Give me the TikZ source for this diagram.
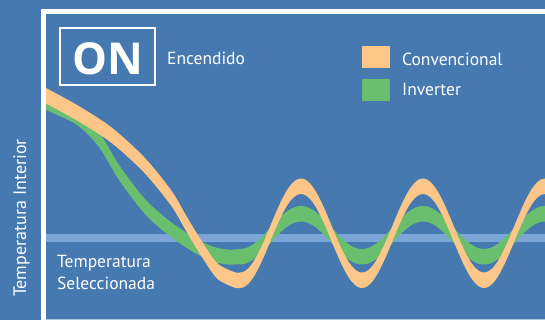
\documentclass[tikz,border=0pt]{standalone}
\usepackage{fontspec}
\setmainfont{PT Sans}
\newfontfamily\onfont{Open Sans}
\definecolor{bg}{RGB}{70,121,175}
\definecolor{orng}{RGB}{253,198,137}
\definecolor{grn}{RGB}{106,191,110}
\definecolor{setband}{RGB}{124,166,216}
\definecolor{faint}{RGB}{170,196,226}
\begin{document}
\begin{tikzpicture}[x=1pt,y=-1pt,
  lbl/.style={text=white, inner sep=0pt, anchor=base west, font=\fontsize{17.5}{20}\selectfont},
  swatch/.style={inner sep=0pt, minimum width=28pt, minimum height=22pt},
  framebox/.style={draw=white, line width=2pt, inner sep=0pt, minimum width=95pt, minimum height=57pt}]
\useasboundingbox (0,0) rectangle (545,320);
\fill[bg] (0,0) rectangle (545,320);
% set temperature band
\fill[setband] (46,234) rectangle (545,242);
\begin{scope}
\clip (46,14) rectangle (545,318);
% inverter curve
\fill[grn] plot[smooth] coordinates {(46,95) (77,110) (99,132) (119,165) (144,198) (167,219) (190,235) (211,246) (228,249.5) (240,249)}
  -- plot[domain=240:550,samples=120] (\x,{227.5+21.5*cos((\x-240)/122*360)})
  -- plot[domain=550:240,samples=120] (\x,{243+21.5*cos((\x-240)/122*360)})
  -- plot[smooth] coordinates {(240,264) (228,264.5) (211,261) (190,250) (167,234) (144,213) (119,180) (99,147) (77,125) (46,110)}
  -- cycle;
% conventional curve
\fill[orng] plot[smooth] coordinates {(46,88) (77,105) (111,127) (144,157) (171,190) (187,217) (201,240) (217,263) (234,272) (240,272.5)}
  -- plot[domain=240:550,samples=120] (\x,{225.5+47*cos((\x-240)/122*360)})
  -- plot[domain=550:240,samples=120] (\x,{241+47*cos((\x-240)/122*360)})
  -- plot[smooth] coordinates {(240,288) (234,287.5) (217,278.5) (201,255.5) (187,232.5) (171,205.5) (144,172.5) (111,142.5) (77,120.5) (46,103.5)}
  -- cycle;
\end{scope}
% frame
\draw[white, line width=4.5pt] (43.5,320) -- (43.5,11.5) -- (545,11.5);
\draw[faint, line width=1pt] (46,319.3) -- (545,319.3);
% ON box
\node[framebox] (onbox) at (107.5,56.5) {};
\node[text=white, inner sep=0pt, font=\onfont\fontsize{44}{48}\selectfont\bfseries] (ontext) at (107.5,58.5) {ON};
\node[lbl] (enc) at (167,65) {Encendido};
% legend
\node[swatch, fill=orng] (sw1) at (376,57) {};
\node[swatch, fill=grn] (sw2) at (376,90) {};
\node[lbl] (conv) at (402,65.5) {Convencional};
\node[lbl] (inv) at (402,95.5) {Inverter};
% set temperature label
\node[lbl] (t1) at (57,267.3) {Temperatura};
\node[lbl] (t2) at (57,289) {Seleccionada};
% axis label
\node[text=white, inner sep=0pt, anchor=base, rotate=90, font=\fontsize{18}{20}\selectfont] (ylab) at (26,218) {Temperatura Interior};
\end{tikzpicture}
\end{document}
